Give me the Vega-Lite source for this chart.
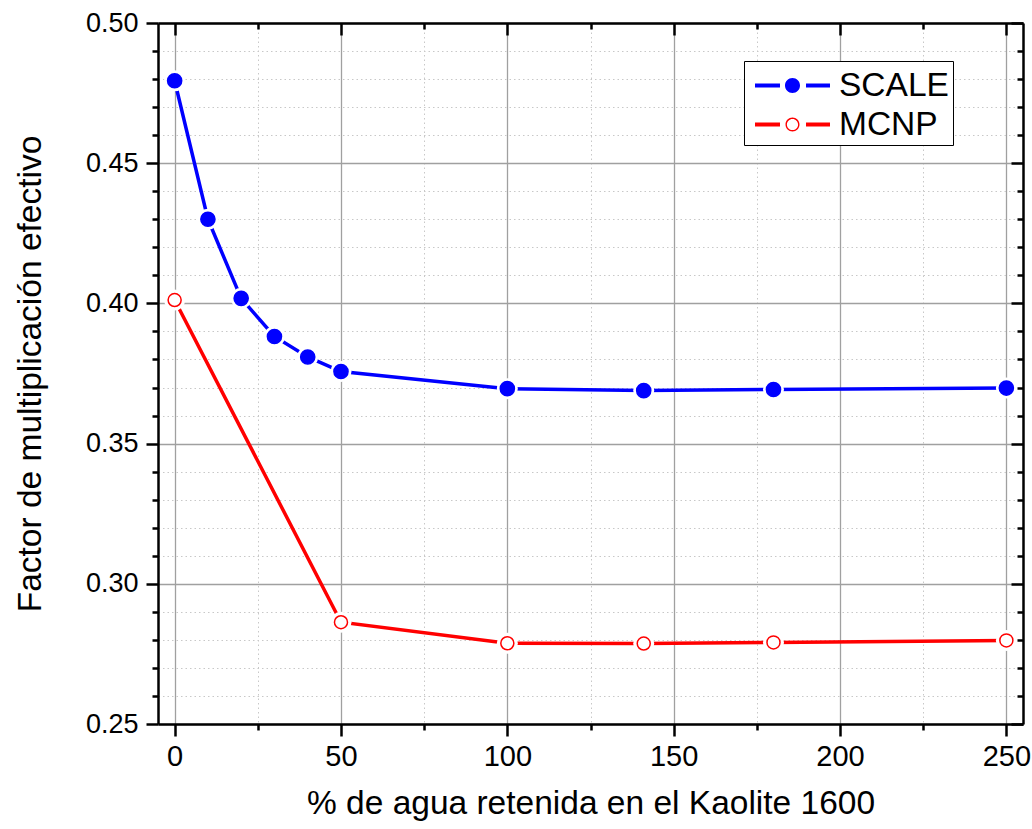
{
  "$schema": "https://vega.github.io/schema/vega-lite/v6.json",
  "width": 865,
  "height": 701,
  "autosize": {"type": "none"},
  "padding": {"left": 158, "top": 23, "right": 9, "bottom": 105},
  "background": "white",
  "config": {
    "view": {"stroke": null},
    "font": "Liberation Sans",
    "axis": {"labelFont": "Liberation Sans", "titleFont": "Liberation Sans", "labelColor": "black", "titleColor": "black", "titleFontWeight": "normal", "labelFlush": false, "labelOverlap": false, "tickColor": "black", "domainColor": "black"}
  },
  "data": {
    "values": [
      {"x": 0, "y": 0.4794, "series": "SCALE"},
      {"x": 10, "y": 0.4300, "series": "SCALE"},
      {"x": 20, "y": 0.4018, "series": "SCALE"},
      {"x": 30, "y": 0.3882, "series": "SCALE"},
      {"x": 40, "y": 0.3809, "series": "SCALE"},
      {"x": 50, "y": 0.3757, "series": "SCALE"},
      {"x": 100, "y": 0.3696, "series": "SCALE"},
      {"x": 141, "y": 0.3689, "series": "SCALE"},
      {"x": 180, "y": 0.3693, "series": "SCALE"},
      {"x": 250, "y": 0.3698, "series": "SCALE"},
      {"x": 0, "y": 0.4012, "series": "MCNP"},
      {"x": 50, "y": 0.2863, "series": "MCNP"},
      {"x": 100, "y": 0.2788, "series": "MCNP"},
      {"x": 141, "y": 0.2787, "series": "MCNP"},
      {"x": 180, "y": 0.2791, "series": "MCNP"},
      {"x": 250, "y": 0.2798, "series": "MCNP"}
    ]
  },
  "resolve": {"axis": {"x": "independent", "y": "independent"}},
  "layer": [
    {
      "mark": {"type": "point", "opacity": 0},
      "encoding": {
        "x": {"field": "x", "type": "quantitative", "scale": {"domain": [-5, 255], "nice": false, "zero": false},
          "axis": {"orient": "bottom", "values": [25, 75, 125, 175, 225], "grid": true, "gridColor": "#c8c8c8", "gridWidth": 1, "gridDash": [1.5, 3], "tickSize": 6, "tickWidth": 2.5, "labels": false, "domain": false, "title": null}},
        "y": {"field": "y", "type": "quantitative", "scale": {"domain": [0.25, 0.5], "nice": false, "zero": false},
          "axis": {"orient": "left", "values": [0.26, 0.27, 0.28, 0.29, 0.31, 0.32, 0.33, 0.34, 0.36, 0.37, 0.38, 0.39, 0.41, 0.42, 0.43, 0.44, 0.46, 0.47, 0.48, 0.49], "grid": true, "gridColor": "#c8c8c8", "gridWidth": 1, "gridDash": [1.5, 3], "tickSize": 6, "tickWidth": 2.5, "labels": false, "domain": false, "title": null}}
      }
    },
    {
      "mark": {"type": "point", "opacity": 0},
      "encoding": {
        "x": {"field": "x", "type": "quantitative", "scale": {"domain": [-5, 255], "nice": false, "zero": false},
          "axis": {"orient": "top", "values": [25, 75, 125, 175, 225], "grid": false, "tickSize": -6, "tickWidth": 2.5, "labels": false, "domain": false, "title": null}},
        "y": {"field": "y", "type": "quantitative", "scale": {"domain": [0.25, 0.5], "nice": false, "zero": false},
          "axis": {"orient": "right", "values": [0.26, 0.27, 0.28, 0.29, 0.31, 0.32, 0.33, 0.34, 0.36, 0.37, 0.38, 0.39, 0.41, 0.42, 0.43, 0.44, 0.46, 0.47, 0.48, 0.49], "grid": false, "tickSize": -6, "tickWidth": 2.5, "labels": false, "domain": false, "title": null}}
      }
    },
    {
      "mark": {"type": "point", "opacity": 0},
      "encoding": {
        "x": {"field": "x", "type": "quantitative", "scale": {"domain": [-5, 255], "nice": false, "zero": false},
          "axis": {"orient": "top", "values": [0, 50, 100, 150, 200, 250], "grid": false, "tickSize": -12, "tickWidth": 2.5, "labels": false, "domain": true, "domainWidth": 2.5, "title": null}},
        "y": {"field": "y", "type": "quantitative", "scale": {"domain": [0.25, 0.5], "nice": false, "zero": false},
          "axis": {"orient": "right", "values": [0.25, 0.3, 0.35, 0.4, 0.45, 0.5], "grid": false, "tickSize": -12, "tickWidth": 2.5, "labels": false, "domain": true, "domainWidth": 2.5, "title": null}}
      }
    },
    {
      "mark": {"type": "line", "strokeWidth": 3.5},
      "encoding": {
        "x": {"field": "x", "type": "quantitative", "scale": {"domain": [-5, 255], "nice": false, "zero": false},
          "axis": {"orient": "bottom", "values": [0, 50, 100, 150, 200, 250], "grid": true, "gridColor": "#a0a0a0", "gridWidth": 1.3, "tickSize": 12, "tickWidth": 2.5, "domain": true, "domainWidth": 2.5, "labelFontSize": 29, "labelPadding": 6, "title": "% de agua retenida en el Kaolite 1600", "titleFontSize": 33.5, "titlePadding": 16}},
        "y": {"field": "y", "type": "quantitative", "scale": {"domain": [0.25, 0.5], "nice": false, "zero": false},
          "axis": {"orient": "left", "values": [0.25, 0.3, 0.35, 0.4, 0.45, 0.5], "format": ".2f", "grid": true, "gridColor": "#a0a0a0", "gridWidth": 1.3, "tickSize": 12, "tickWidth": 2.5, "domain": true, "domainWidth": 2.5, "labelFontSize": 27, "labelPadding": 8, "title": "Factor de multiplicación efectivo", "titleFontSize": 33.5, "titlePadding": 38}},
        "detail": {"field": "series", "type": "nominal"},
        "stroke": {"condition": {"test": "datum.series === 'SCALE'", "value": "#0000ff"}, "value": "#ff0000"}
      }
    },
    {
      "mark": {"type": "point", "filled": true, "size": 1, "strokeWidth": 0},
      "encoding": {
        "x": {"field": "x", "type": "quantitative", "axis": null},
        "y": {"field": "y", "type": "quantitative", "axis": null},
        "shape": {"field": "series", "type": "nominal",
          "scale": {"domain": ["SCALE", "MCNP"], "range": [
            "M-1.829,-0.093L-0.61,-0.093L-0.61,0.093L-1.829,0.093ZM0.659,-0.093L1.829,-0.093L1.829,0.093L0.659,0.093ZM0.366,0A0.366,0.366,0,1,1,-0.366,0A0.366,0.366,0,1,1,0.366,0Z",
            "M-1.829,-0.093L-0.61,-0.093L-0.61,0.093L-1.829,0.093ZM0.659,-0.093L1.829,-0.093L1.829,0.093L0.659,0.093ZM0.341,0A0.341,0.341,0,1,1,-0.341,0A0.341,0.341,0,1,1,0.341,0ZM0.273,0A0.273,0.273,0,1,0,-0.273,0A0.273,0.273,0,1,0,0.273,0Z"
          ]},
          "legend": {"title": null, "orient": "none", "legendX": 586, "legendY": 38, "padding": 4, "strokeColor": "black", "fillColor": "white", "symbolSize": 1681, "symbolStrokeWidth": 0, "symbolOffset": 24, "labelOffset": 26, "labelFontSize": 33.5, "labelFont": "Liberation Sans", "labelColor": "black", "rowPadding": 2, "symbolOpacity": 1}},
        "fill": {"field": "series", "type": "nominal",
          "scale": {"domain": ["SCALE", "MCNP"], "range": ["#0000ff", "#ff0000"]},
          "legend": {"title": null, "orient": "none", "legendX": 586, "legendY": 38, "padding": 4, "strokeColor": "black", "fillColor": "white", "symbolSize": 1681, "symbolStrokeWidth": 0, "symbolOffset": 24, "labelOffset": 26, "labelFontSize": 33.5, "labelFont": "Liberation Sans", "labelColor": "black", "rowPadding": 2, "symbolOpacity": 1}}
      }
    },
    {
      "mark": {"type": "point", "filled": true, "opacity": 1, "size": 441, "fill": "white", "strokeWidth": 0},
      "encoding": {
        "x": {"field": "x", "type": "quantitative", "axis": null},
        "y": {"field": "y", "type": "quantitative", "axis": null}
      }
    },
    {
      "mark": {"type": "point", "filled": true, "opacity": 1, "strokeWidth": 1.5},
      "encoding": {
        "x": {"field": "x", "type": "quantitative", "axis": null},
        "y": {"field": "y", "type": "quantitative", "axis": null},
        "size": {"condition": {"test": "datum.series === 'SCALE'", "value": 200}, "value": 170},
        "fill": {"condition": {"test": "datum.series === 'SCALE'", "value": "#0000ff"}, "value": "white"},
        "stroke": {"condition": {"test": "datum.series === 'SCALE'", "value": "#0000ff"}, "value": "#ff0000"}
      }
    }
  ]
}
